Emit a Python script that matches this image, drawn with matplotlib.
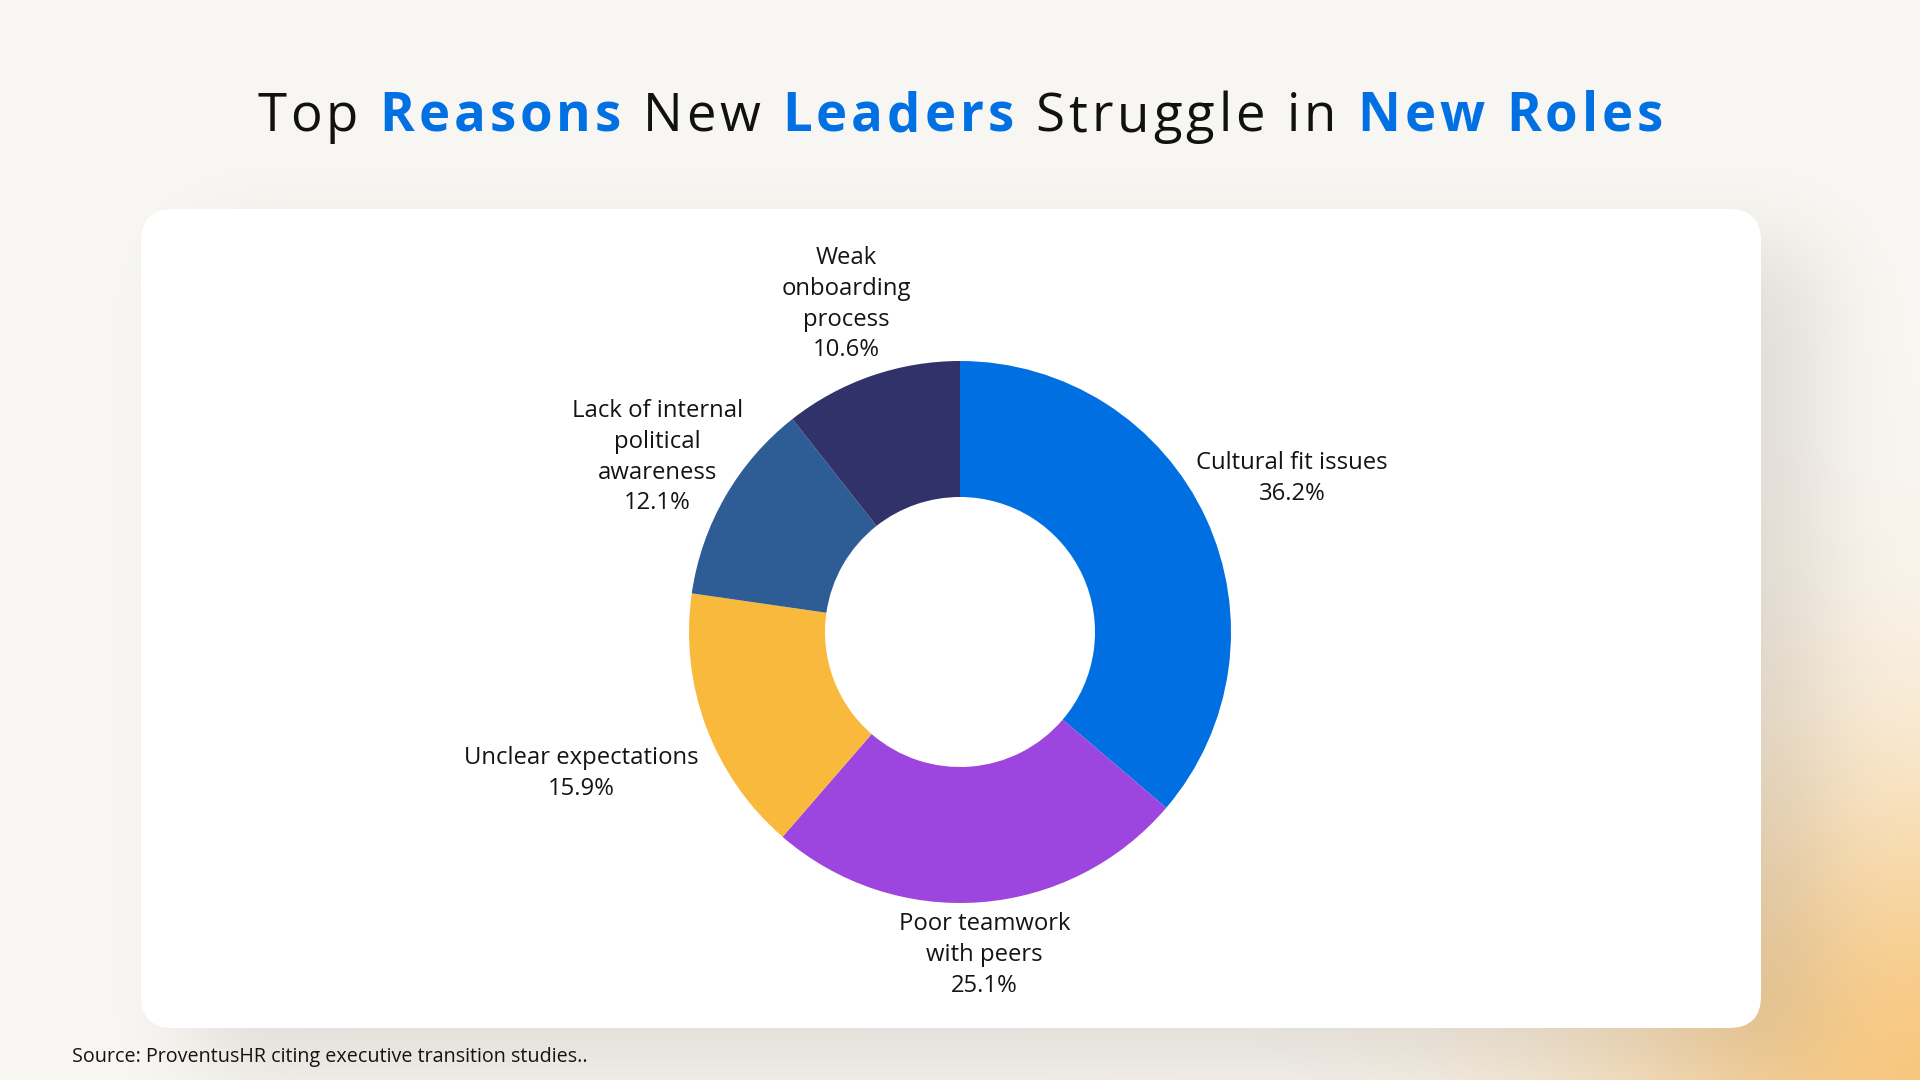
#!/usr/bin/env python3
"""Donut chart: top reasons new leaders struggle in new roles."""

import math
import numpy as np
import matplotlib
matplotlib.use("Agg")
import matplotlib.pyplot as plt
from matplotlib.patches import FancyBboxPatch
from matplotlib.font_manager import FontProperties

# ==================== data ====================
categories = [
    "Cultural fit issues",
    "Poor teamwork\nwith peers",
    "Unclear expectations",
    "Lack of internal\npolitical\nawareness",
    "Weak\nonboarding\nprocess",
]
values = [36.2, 25.1, 15.9, 12.1, 10.6]
colors = ["#006FE2", "#9D45DF", "#F9B93C", "#2E5D96", "#31326A"]

title_parts = [
    ("Top ", "normal", "#111111"),
    ("Reasons", "bold", "#0070E3"),
    (" New ", "normal", "#111111"),
    ("Leaders", "bold", "#0070E3"),
    (" Struggle in ", "normal", "#111111"),
    ("New Roles", "bold", "#0070E3"),
]
source_text = "Source: ProventusHR citing executive transition studies.."

# ==================== layout (pixels, y measured from top) ====================
W, H = 1920, 1080
FONT = "Open Sans"
card = (141, 209, 1761, 1028)           # left, top, right, bottom
donut_c = (960, 632)
r_out, r_in = 271, 135
label_dist = [1.35, 1.195, 1.49, 1.29, 1.28]   # label centre / outer radius

plt.rcParams["font.family"] = [FONT, "DejaVu Sans"]

fig = plt.figure(figsize=(W / 100, H / 100), dpi=100)
ax = fig.add_axes([0, 0, 1, 1])
ax.set_xlim(0, W)
ax.set_ylim(0, H)
ax.axis("off")


def Y(y):
    return H - y


# ---------- background: warm base, orange glow, soft card shadow ----------
xs = np.arange(W) + 0.5
ys = np.arange(H) + 0.5
XX, YY = np.meshgrid(xs, ys)

base = np.array([249, 247, 243]) / 255.0
img = np.ones((H, W, 3)) * base

glow_col = np.array([248, 199, 126]) / 255.0
d = np.hypot(XX - 1945, YY - 1100)
ga = np.exp(-(d / 340.0) ** 2)[..., None]
img = img * (1 - ga) + glow_col * ga

erf = np.vectorize(math.erf)
sig, dx, dy = 45.0, 55, 40
sx = 0.5 * (erf((xs - (card[0] + dx)) / (sig * 1.414)) - erf((xs - (card[2] + dx)) / (sig * 1.414)))
sy = 0.5 * (erf((ys - (card[1] + dy)) / (sig * 1.414)) - erf((ys - (card[3] + dy)) / (sig * 1.414)))
sa = (0.14 * np.outer(sy, sx))[..., None]
shadow_col = np.array([70, 55, 40]) / 255.0
img = img * (1 - sa) + shadow_col * sa

ax.imshow(img, extent=(0, W, 0, H), origin="upper", zorder=0, interpolation="bilinear")
ax.set_xlim(0, W)
ax.set_ylim(0, H)

ax.add_patch(FancyBboxPatch(
    (card[0], Y(card[3])), card[2] - card[0], card[3] - card[1],
    boxstyle="round,pad=0,rounding_size=32", facecolor="white",
    edgecolor="none", zorder=1))

# ---------- donut ----------
wedges, _ = ax.pie(
    values, colors=colors, startangle=90, counterclock=False,
    center=(donut_c[0], Y(donut_c[1])), radius=r_out,
    wedgeprops=dict(width=r_out - r_in, edgecolor="none", linewidth=0),
    frame=True,
)
for w in wedges:
    w.set_zorder(2)
ax.set_xlim(0, W)
ax.set_ylim(0, H)
ax.set_aspect("equal")
ax.axis("off")

for w, cat, v, k in zip(wedges, categories, values, label_dist):
    ang = math.radians((w.theta1 + w.theta2) / 2)
    lx = donut_c[0] + k * r_out * math.cos(ang)
    ly = Y(donut_c[1]) + k * r_out * math.sin(ang)
    ax.text(lx, ly, f"{cat}\n{v:.1f}%", ha="center", va="center",
            multialignment="center", fontsize=17.2, color="#141414",
            linespacing=1.38, zorder=3)

# ---------- title with letter spacing ----------
renderer = fig.canvas.get_renderer()
title_size = 38
title_width = 1406
chars = []
for text, weight, col in title_parts:
    prop = FontProperties(family=FONT, weight=weight, size=title_size)
    for ch in text:
        wpx = renderer.get_text_width_height_descent(ch, prop, ismath=False)[0]
        if ch == " ":
            wpx = renderer.get_text_width_height_descent("a a", prop, ismath=False)[0] - \
                renderer.get_text_width_height_descent("aa", prop, ismath=False)[0]
        chars.append((ch, weight, col, wpx))
natural = sum(c[3] for c in chars)
track = (title_width - natural) / (len(chars) - 1)
x = W / 2 - title_width / 2
for ch, weight, col, wpx in chars:
    if ch != " ":
        ax.text(x, Y(131), ch, fontsize=title_size, fontweight=weight,
                color=col, ha="left", va="baseline", zorder=3)
    x += wpx + track

# ---------- source ----------
ax.text(72, Y(1057), source_text, fontsize=14.2, color="#141414",
        ha="left", va="center", zorder=3)

fig.savefig("out.png", dpi=100)
